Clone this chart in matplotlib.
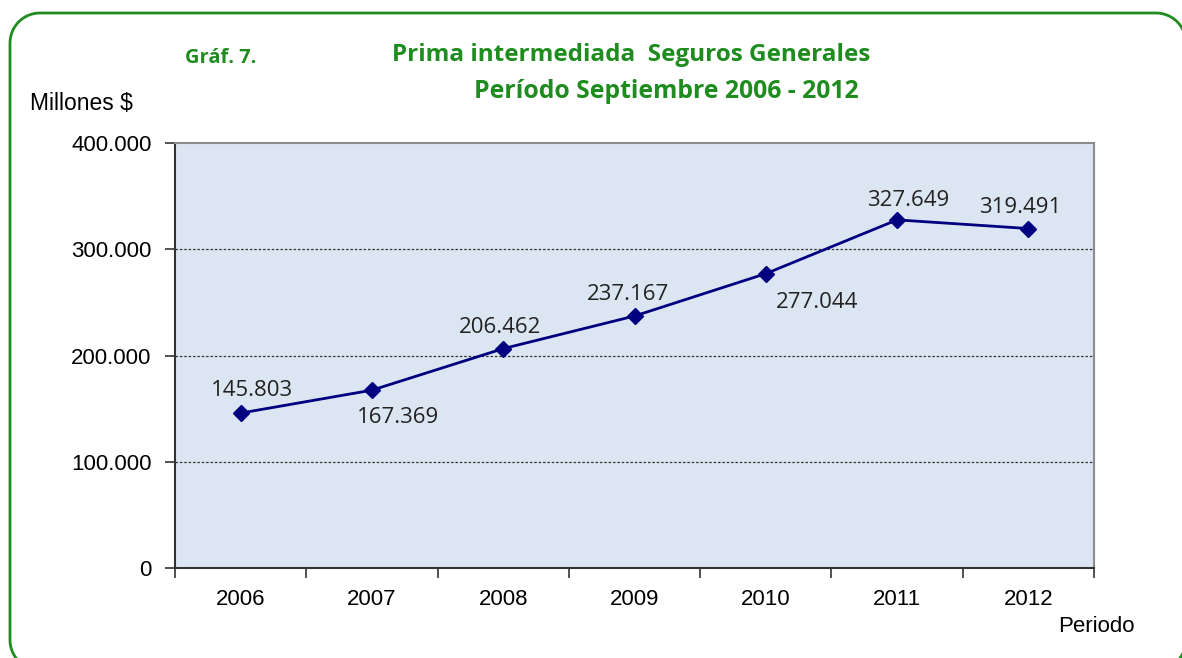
import numpy as np
import matplotlib.pyplot as plt
from matplotlib.lines import Line2D
from matplotlib.transforms import IdentityTransform
from matplotlib.ticker import FuncFormatter, FixedLocator, NullFormatter

years = ['2006', '2007', '2008', '2009', '2010', '2011', '2012']
prima = [145803, 167369, 206462, 237167, 277044, 327649, 319491]
labels = ['145.803', '167.369', '206.462', '237.167', '277.044', '327.649', '319.491']
# label offsets in pixels (dx, dy) relative to each marker
offsets = [(11, 23), (26, -27), (-3, 21), (-6, 22), (51, -29), (11, 19), (-8, 21)]

green = '#1E8C1E'
navy = '#000080'

fig = plt.figure(figsize=(11.82, 6.58), dpi=100)

# rounded green frame, drawn in pixels (origin bottom left)
L, R, T, B, r = 10, 1186, 645, -12, 30
fx, fy = [], []
for cx, cy, t1 in [(R - r, T - r, 0), (L + r, T - r, 90), (L + r, B + r, 180), (R - r, B + r, 270)]:
    t = np.radians(np.linspace(t1, t1 + 90, 20))
    fx.extend(cx + r * np.cos(t))
    fy.extend(cy + r * np.sin(t))
fx.append(fx[0])
fy.append(fy[0])
fig.add_artist(Line2D(fx, fy, transform=IdentityTransform(), color=green, linewidth=2))

ax = fig.add_axes([175 / 1182, 1 - 568 / 658, 919 / 1182, 425 / 658])
ax.set_facecolor('#DCE6F2')

x = list(range(len(years)))
ax.plot(x, prima, color=navy, linewidth=2, marker='D', markersize=8,
        markerfacecolor=navy, markeredgecolor=navy, zorder=3)

for xi, yi, lab, (dx, dy) in zip(x, prima, labels, offsets):
    ax.annotate(lab, (xi, yi), xytext=(dx, dy), textcoords='offset pixels',
                ha='center', va='center', fontsize=16, family='Open Sans',
                color='#222222')

ax.set_xlim(-0.5, len(years) - 0.5)
ax.set_ylim(0, 400000)

ax.yaxis.set_major_locator(FixedLocator([0, 100000, 200000, 300000, 400000]))
ax.yaxis.set_major_formatter(FuncFormatter(
    lambda v, p: '0' if v == 0 else '{:,.0f}'.format(v).replace(',', '.')))

# ticks between categories, labels centred on categories
ax.xaxis.set_major_locator(FixedLocator([i - 0.5 for i in range(len(years) + 1)]))
ax.xaxis.set_major_formatter(NullFormatter())
ax.set_xticks(x, years, minor=True)
ax.tick_params(axis='x', which='minor', length=0, pad=15, labelsize=16)
ax.tick_params(axis='x', which='major', length=7, width=1.2, color='#333333')
ax.tick_params(axis='y', length=7, width=1.2, color='#333333', pad=10, labelsize=16)
for lab in ax.get_xticklabels(minor=True) + ax.get_yticklabels():
    lab.set_family('Liberation Sans')

for yv in [100000, 200000, 300000]:
    ax.axhline(yv, color='#333333', linewidth=0.9, linestyle=(0, (2, 1.5)), zorder=1)

for side in ['top', 'right']:
    ax.spines[side].set_color('#8C8C8C')
    ax.spines[side].set_linewidth(1.5)
for side in ['left', 'bottom']:
    ax.spines[side].set_color('#333333')
    ax.spines[side].set_linewidth(1.5)

fig.text(30 / 1182, 1 - 103 / 658, 'Millones $', fontsize=16.5, family='Liberation Sans',
         va='center', ha='left')
fig.text(1135 / 1182, 1 - 627 / 658, 'Periodo', fontsize=16, family='Liberation Sans',
         va='center', ha='right')

fig.text(185 / 1182, 1 - 58 / 658, 'Gráf. 7.', fontsize=14.5, family='Open Sans',
         weight='bold', color=green, va='center', ha='left')
fig.text(631 / 1182, 1 - 55 / 658, 'Prima intermediada  Seguros Generales', fontsize=17.5,
         family='Open Sans', weight='bold', color=green, va='center', ha='center')
fig.text(666 / 1182, 1 - 92 / 658, 'Período Septiembre 2006 - 2012', fontsize=17.8,
         family='Open Sans', weight='bold', color=green, va='center', ha='center')

fig.savefig('out.png', dpi=100)
